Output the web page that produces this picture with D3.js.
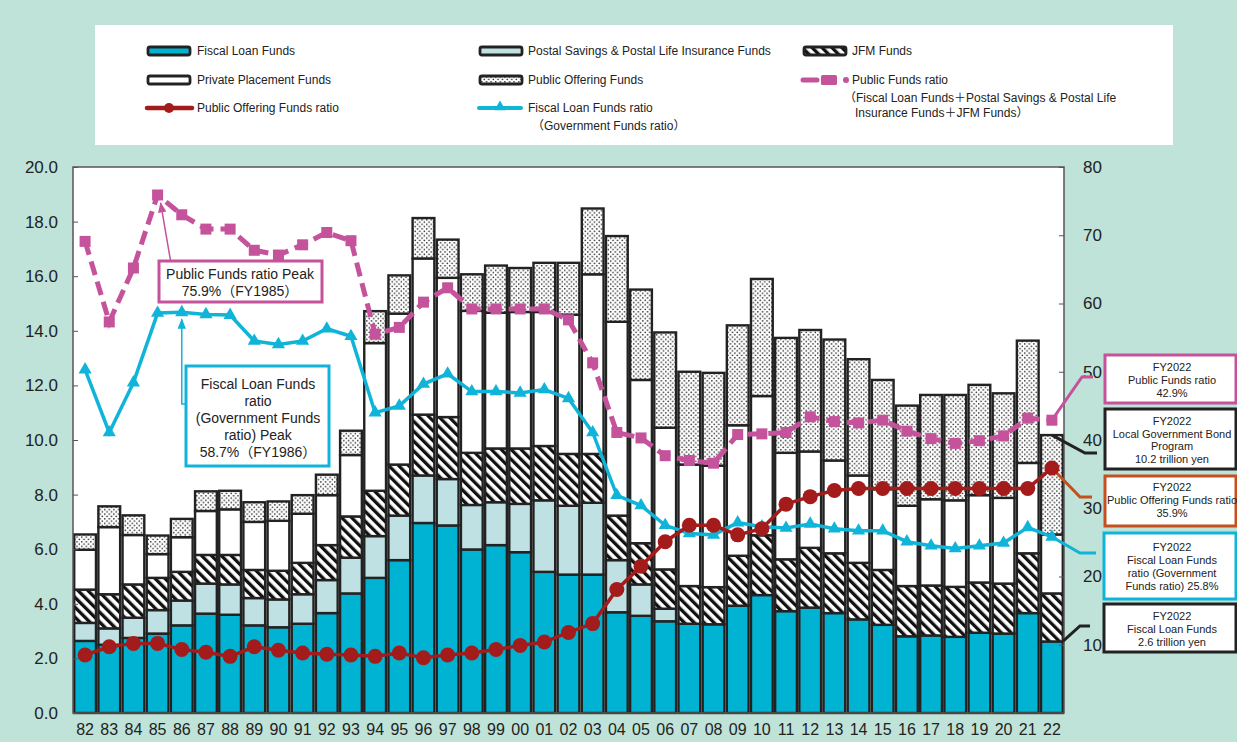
<!DOCTYPE html>
<html>
<head>
<meta charset="utf-8">
<script src="https://cdn.jsdelivr.net/npm/d3@7"></script>
<style>
  body { margin: 0; background: #bfe3d8; }
  text { font-family: "Liberation Sans", Arial, "Noto Sans CJK JP", sans-serif; fill: #222; }
</style>
</head>
<body>
<div id="chart"></div>
<script>
// fiscal years (FY1982 - FY2022)
const years = ['82','83','84','85','86','87','88','89','90','91','92','93','94','95','96','97','98','99',
  '00','01','02','03','04','05','06','07','08','09','10','11','12','13','14','15','16','17','18','19','20','21','22'];

// trillion yen, stacked bottom to top
const fiscalLoan = [2.64,2.50,2.75,2.91,3.21,3.64,3.60,3.21,3.14,3.27,3.66,4.38,4.95,5.60,6.96,6.87,5.99,6.15,
  5.89,5.17,5.07,5.07,3.69,3.56,3.36,3.27,3.25,3.93,4.32,3.73,3.86,3.66,3.43,3.23,2.81,2.84,2.79,2.94,2.91,3.66,2.62];
const postalSavings = [0.66,0.60,0.74,0.86,0.91,1.10,1.11,1.00,1.02,1.08,1.21,1.31,1.53,1.63,1.74,1.70,1.63,1.57,
  1.77,2.62,2.52,2.63,1.91,1.15,0.46,0,0,0,0,0,0,0,0,0,0,0,0,0,0,0,0];
const jfmFunds = [1.22,1.25,1.22,1.18,1.05,1.05,1.08,1.03,1.05,1.15,1.28,1.51,1.66,1.87,2.23,2.27,1.91,1.97,
  2.03,1.99,1.90,1.79,1.63,1.51,1.44,1.38,1.36,1.83,2.19,1.90,2.19,2.19,2.07,2.01,1.84,1.83,1.83,1.84,1.83,2.19,1.76];
const privatePlacement = [1.46,2.46,1.81,0.87,1.27,1.61,1.67,1.76,1.83,1.80,1.83,2.25,5.41,5.53,5.72,5.10,5.20,4.97,
  5.00,4.91,5.10,6.58,7.10,5.98,5.19,4.45,4.45,4.78,5.10,3.90,3.53,3.40,3.20,2.96,2.94,3.16,3.17,3.20,3.14,3.31,2.16];
const publicOffering = [0.56,0.76,0.72,0.68,0.67,0.72,0.68,0.72,0.71,0.68,0.75,0.89,1.17,1.40,1.48,1.40,1.34,1.73,
  1.61,1.80,1.90,2.41,3.14,3.31,3.49,3.40,3.40,3.66,4.29,4.21,4.45,4.43,4.26,4.00,3.67,3.82,3.86,4.04,3.83,4.48,3.64];

// ratios, %
const publicFundsRatio = [69.1,57.3,65.2,75.9,73.0,70.9,70.9,67.8,67.1,68.6,70.4,69.2,55.5,56.5,60.2,62.3,59.2,59.2,
  59.2,59.2,57.6,51.3,41.1,40.3,37.7,37.0,36.6,40.8,40.9,41.1,43.4,42.7,42.5,42.9,41.3,40.2,39.5,39.9,40.6,43.2,42.9];
const fiscalLoanRatio = [50.3,41.1,48.4,58.6,58.7,58.4,58.3,54.5,54.0,54.5,56.3,55.2,44.0,45.0,48.2,49.7,47.1,47.1,
  46.9,47.4,46.1,41.1,31.9,30.4,27.5,26.3,26.1,27.9,27.3,27.1,27.7,27.0,26.7,26.7,25.1,24.5,24.1,24.5,24.9,27.2,25.8];
const publicOfferingRatio = [8.5,9.7,10.2,10.2,9.3,8.9,8.3,9.7,9.2,8.8,8.6,8.5,8.3,8.8,8.1,8.5,8.8,9.3,
  9.9,10.4,11.8,13.1,18.1,21.5,25.1,27.5,27.5,26.1,27.0,30.6,31.7,32.6,32.9,32.9,32.9,32.9,32.9,32.9,32.9,32.9,35.9];

const leftTicks = [0,2,4,6,8,10,12,14,16,18,20];
const rightTicks = [10,20,30,40,50,60,70,80];

const width = 1237, height = 742;
const margin = {top: 167, right: 173, bottom: 29, left: 73};
const fontFam = '"Liberation Sans", Arial, "Noto Sans CJK JP", sans-serif';

const svg = d3.select('#chart').append('svg')
  .attr('width', width)
  .attr('height', height);

svg.append('rect').attr('width', width).attr('height', height).attr('fill', '#bfe3d8');

// patterns
const defs = svg.append('defs');
let hatch = defs.append('pattern')
  .attr('id', 'hatch').attr('patternUnits', 'userSpaceOnUse')
  .attr('width', 7).attr('height', 7)
  .attr('patternTransform', 'rotate(-45)');
hatch.append('rect').attr('width', 7).attr('height', 7).attr('fill', '#fff');
hatch.append('rect').attr('width', 3.3).attr('height', 7).attr('fill', '#111');

let dots = defs.append('pattern')
  .attr('id', 'dots').attr('patternUnits', 'userSpaceOnUse')
  .attr('width', 4.6).attr('height', 4.6);
dots.append('rect').attr('width', 4.6).attr('height', 4.6).attr('fill', '#fff');
dots.append('circle').attr('cx', 1.2).attr('cy', 1.2).attr('r', 0.8).attr('fill', '#222');
dots.append('circle').attr('cx', 3.5).attr('cy', 3.5).attr('r', 0.8).attr('fill', '#222');

// legend box
svg.append('rect')
  .attr('x', 95).attr('y', 25).attr('width', 1078).attr('height', 120)
  .attr('fill', '#fff');

// plot area
const x0 = margin.left, x1 = width - margin.right, y0 = height - margin.bottom, y1 = margin.top;
svg.append('rect')
  .attr('x', x0).attr('y', y1).attr('width', x1 - x0).attr('height', y0 - y1)
  .attr('fill', '#fff');

const x = d3.scaleBand().domain(years).range([x0, x1]).paddingInner(0.1).paddingOuter(0.05);
const yL = d3.scaleLinear().domain([0, 20]).range([y0, y1]);
const yR = d3.scaleLinear().domain([0, 80]).range([y0, y1]);
const bw = x.bandwidth();
const cx = d => x(d) + bw / 2;

// stacked bars
const keys = ['fiscal', 'postal', 'jfm', 'private', 'public'];
const fills = {fiscal: '#00b3d3', postal: '#bfe1e3', jfm: 'url(#hatch)', private: '#fff', public: 'url(#dots)'};
const table = years.map((y, i) => ({
  year: y, fiscal: fiscalLoan[i], postal: postalSavings[i], jfm: jfmFunds[i],
  private: privatePlacement[i], public: publicOffering[i]
}));
const series = d3.stack().keys(keys)(table);

svg.append('g').selectAll('g')
  .data(series)
  .enter().append('g')
  .attr('fill', d => fills[d.key])
  .selectAll('rect')
  .data(d => d.filter(s => s[1] - s[0] > 0.001))
  .enter().append('rect')
  .attr('x', d => x(d.data.year))
  .attr('width', bw)
  .attr('y', d => yL(d[1]))
  .attr('height', d => yL(d[0]) - yL(d[1]))
  .attr('stroke', '#222')
  .attr('stroke-width', 2.4);

// frame and axes
svg.append('rect')
  .attr('x', x0).attr('y', y1).attr('width', x1 - x0).attr('height', y0 - y1)
  .attr('fill', 'none').attr('stroke', '#555').attr('stroke-width', 1.5);

let leftAxis = svg.append('g')
  .attr('transform', `translate(${x0},0)`)
  .call(d3.axisLeft(yL).tickValues(leftTicks).tickSize(-5).tickPadding(15).tickFormat(d3.format('.1f')));
let rightAxis = svg.append('g')
  .attr('transform', `translate(${x1},0)`)
  .call(d3.axisRight(yR).tickValues(rightTicks).tickSize(-5).tickPadding(19));
let bottomAxis = svg.append('g')
  .attr('transform', `translate(0,${y0})`)
  .call(d3.axisBottom(x).tickSize(0).tickPadding(11));

[leftAxis, rightAxis, bottomAxis].forEach(a => {
  a.select('.domain').remove();
  a.selectAll('.tick line').attr('stroke', '#555');
  a.selectAll('text').style('font-family', fontFam).attr('fill', '#222');
});
leftAxis.selectAll('text').style('font-size', '17px');
rightAxis.selectAll('text').style('font-size', '17px');
bottomAxis.selectAll('text').style('font-size', '16px');

// callout leader lines (drawn under the markers)
const last = years[years.length - 1];
const totalLast = d3.sum(keys, k => table[table.length - 1][k]);
const leaders = [
  {c: '#c4539c', pts: [[cx(last), yR(42.9)], [1082, 377], [1093, 377]]},
  {c: '#222', pts: [[cx(last), yL(totalLast)], [1085, 453], [1097, 453]]},
  {c: '#c5501e', pts: [[cx(last), yR(35.9)], [1080, 497], [1092, 497]]},
  {c: '#10b4d8', pts: [[cx(last), yR(25.8)], [1080, 553], [1096, 553]]},
  {c: '#222', pts: [[x(last) + bw, yL(fiscalLoan[fiscalLoan.length - 1])], [1080, 626], [1090, 626]]}
];
svg.append('g').selectAll('path')
  .data(leaders)
  .enter().append('path')
  .attr('d', d => d3.line()(d.pts))
  .attr('fill', 'none')
  .attr('stroke', d => d.c)
  .attr('stroke-width', 3);

// ratio lines
const lineGen = d3.line().x((d, i) => cx(years[i])).y(d => yR(d));

svg.append('path')
  .datum(publicFundsRatio)
  .attr('d', lineGen)
  .attr('fill', 'none').attr('stroke', '#c4539c').attr('stroke-width', 5)
  .attr('stroke-dasharray', '14,7');
svg.append('g').selectAll('rect')
  .data(publicFundsRatio)
  .enter().append('rect')
  .attr('x', (d, i) => cx(years[i]) - 5.5)
  .attr('y', d => yR(d) - 5.5)
  .attr('width', 11).attr('height', 11)
  .attr('fill', '#c4539c');

svg.append('path')
  .datum(fiscalLoanRatio)
  .attr('d', lineGen)
  .attr('fill', 'none').attr('stroke', '#10b4d8').attr('stroke-width', 3.5);
svg.append('g').selectAll('path')
  .data(fiscalLoanRatio)
  .enter().append('path')
  .attr('d', d3.symbol(d3.symbolTriangle).size(75))
  .attr('transform', (d, i) => `translate(${cx(years[i])},${yR(d)})`)
  .attr('fill', '#10b4d8');

svg.append('path')
  .datum(publicOfferingRatio)
  .attr('d', lineGen)
  .attr('fill', 'none').attr('stroke', '#a31b1b').attr('stroke-width', 3.5);
svg.append('g').selectAll('circle')
  .data(publicOfferingRatio)
  .enter().append('circle')
  .attr('cx', (d, i) => cx(years[i]))
  .attr('cy', d => yR(d))
  .attr('r', 7.5)
  .attr('fill', '#a31b1b');

// arrowheads
['#c4539c', '#10b4d8'].forEach((c, i) => {
  defs.append('marker')
    .attr('id', 'arrow' + i)
    .attr('viewBox', '0 0 10 10').attr('refX', 9).attr('refY', 5)
    .attr('markerWidth', 7).attr('markerHeight', 7)
    .attr('orient', 'auto')
    .append('path').attr('d', 'M0,1L10,5L0,9z').attr('fill', c);
});

// peak notes
const pk1 = years.indexOf('85'), pk2 = years.indexOf('86');
svg.append('path')
  .attr('d', d3.line()([[cx('85') + 13, 261], [cx('85') + 3, yR(publicFundsRatio[pk1]) + 8]]))
  .attr('stroke', '#c4539c').attr('stroke-width', 1.5).attr('fill', 'none')
  .attr('marker-end', 'url(#arrow0)');
svg.append('path')
  .attr('d', d3.line()([[188, 404], [cx('86'), 404], [cx('86'), yR(fiscalLoanRatio[pk2]) + 7]]))
  .attr('stroke', '#10b4d8').attr('stroke-width', 1.5).attr('fill', 'none')
  .attr('marker-end', 'url(#arrow1)');

function noteBox(bx, by, bw2, bh, color, lines, fs, lh, tx, ty) {
  svg.append('rect')
    .attr('x', bx).attr('y', by).attr('width', bw2).attr('height', bh)
    .attr('fill', '#fff').attr('stroke', color).attr('stroke-width', 3);
  svg.append('text')
    .attr('text-anchor', 'middle')
    .style('font-size', fs + 'px')
    .selectAll('tspan')
    .data(lines)
    .enter().append('tspan')
    .attr('x', tx)
    .attr('y', (d, i) => ty + i * lh)
    .text(d => d);
}

noteBox(159, 261, 163, 41, '#c4539c', ['Public Funds ratio Peak', '75.9%（FY1985）'], 14, 17, 240, 279);
noteBox(186, 366, 143, 100, '#10b4d8',
  ['Fiscal Loan Funds', 'ratio', '(Government Funds', 'ratio) Peak', '58.7%（FY1986）'], 14, 17, 258, 389);

// FY2022 callouts
noteBox(1105, 355, 131, 48, '#c4539c', ['FY2022', 'Public Funds ratio', '42.9%'], 11, 13, 1172, 371);
noteBox(1105, 409, 131, 60, '#222', ['FY2022', 'Local Government Bond', 'Program', '10.2 trillion yen'], 11, 12.7, 1172, 425);
noteBox(1105, 476, 131, 50, '#c5501e', ['FY2022', 'Public Offering Funds ratio', '35.9%'], 11, 13, 1172, 491);
noteBox(1104, 533, 132, 66, '#10b4d8', ['FY2022', 'Fiscal Loan Funds', 'ratio (Government', 'Funds ratio) 25.8%'], 11, 13, 1172, 551);
noteBox(1104, 604, 132, 48, '#222', ['FY2022', 'Fiscal Loan Funds', '2.6 trillion yen'], 11, 13, 1172, 620);

// legend
const lg = svg.append('g').style('font-size', '12px');
function swatch(sx, sy, fill) {
  lg.append('rect')
    .attr('x', sx).attr('y', sy - 4).attr('width', 42).attr('height', 8).attr('rx', 2)
    .attr('fill', fill).attr('stroke', '#222').attr('stroke-width', 2.8);
}
function label(tx, ty, t) {
  lg.append('text').attr('x', tx).attr('y', ty + 4).text(t);
}
swatch(148, 51, fills.fiscal); label(197, 51, 'Fiscal Loan Funds');
swatch(480, 51, fills.postal); label(528, 51, 'Postal Savings & Postal Life Insurance Funds');
swatch(804, 51, fills.jfm); label(852, 51, 'JFM Funds');
swatch(148, 80, fills.private); label(197, 80, 'Private Placement Funds');
swatch(480, 80, fills.public); label(528, 80, 'Public Offering Funds');

lg.append('line').attr('x1', 803).attr('x2', 817).attr('y1', 80).attr('y2', 80)
  .attr('stroke', '#c4539c').attr('stroke-width', 5).attr('stroke-linecap', 'round');
lg.append('rect').attr('x', 821).attr('y', 75).attr('width', 16).attr('height', 10).attr('rx', 1.5)
  .attr('fill', '#c4539c');
lg.append('circle').attr('cx', 846).attr('cy', 80).attr('r', 3).attr('fill', '#c4539c');
label(852, 80, 'Public Funds ratio');
label(844, 98, '（Fiscal Loan Funds＋Postal Savings & Postal Life');
label(855, 113, 'Insurance Funds＋JFM Funds）');

lg.append('line').attr('x1', 147).attr('x2', 192).attr('y1', 108).attr('y2', 108)
  .attr('stroke', '#a31b1b').attr('stroke-width', 4.5).attr('stroke-linecap', 'round');
lg.append('circle').attr('cx', 169).attr('cy', 108).attr('r', 5).attr('fill', '#a31b1b');
label(197, 108, 'Public Offering Funds ratio');

lg.append('line').attr('x1', 479).attr('x2', 521).attr('y1', 108).attr('y2', 108)
  .attr('stroke', '#10b4d8').attr('stroke-width', 4).attr('stroke-linecap', 'round');
lg.append('path').attr('d', d3.symbol(d3.symbolTriangle).size(55))
  .attr('transform', 'translate(500,107)').attr('fill', '#10b4d8');
label(528, 108, 'Fiscal Loan Funds ratio');
label(532, 126, '（Government Funds ratio）');
</script>
</body>
</html>
